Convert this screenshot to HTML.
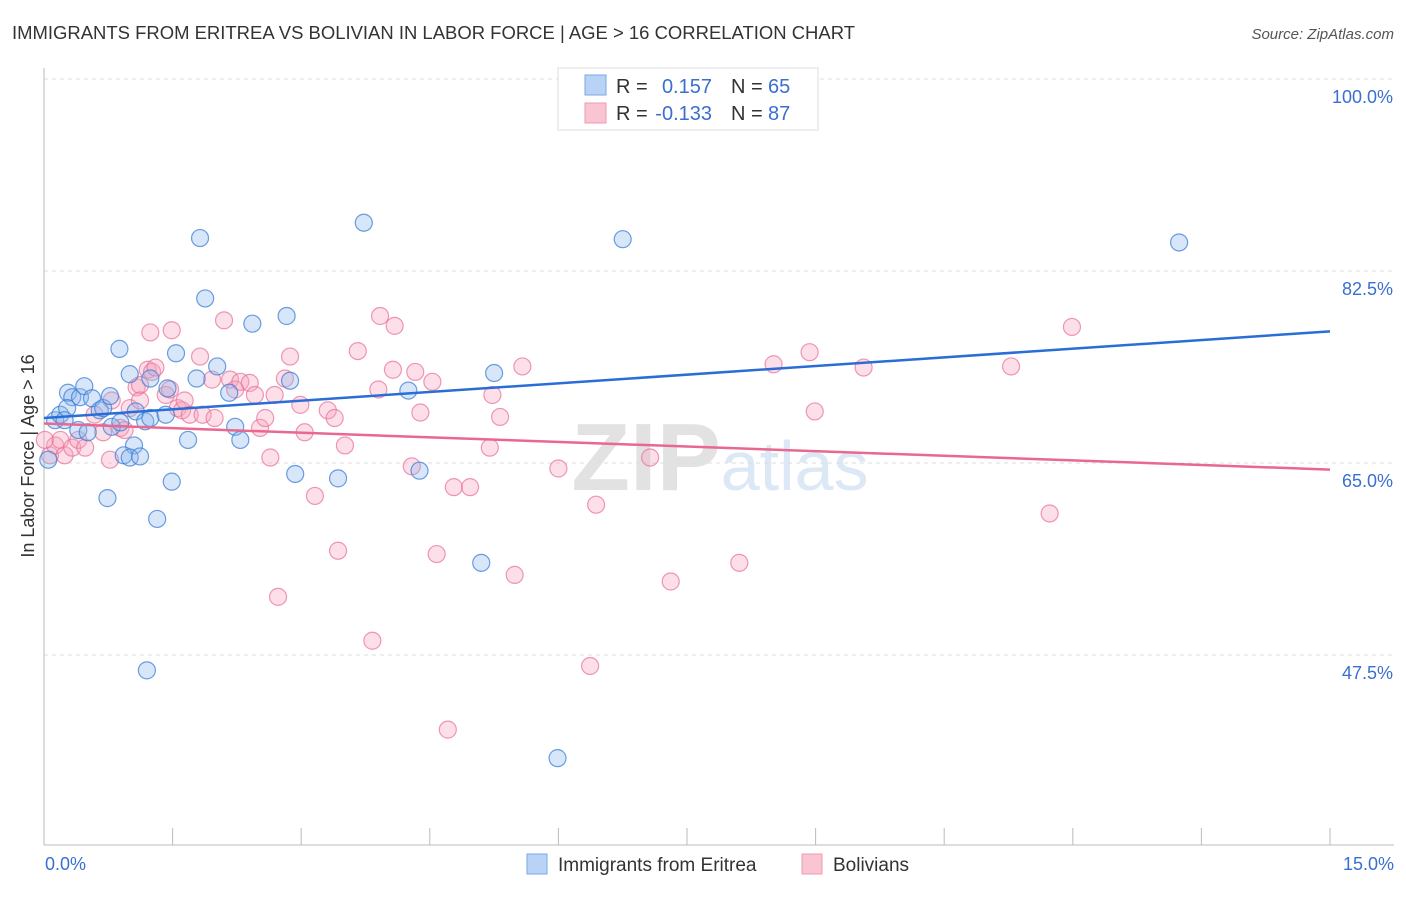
<!DOCTYPE html>
<html><head><meta charset="utf-8"><style>
body{margin:0;background:#fff;font-family:"Liberation Sans",sans-serif;}
svg text{font-family:"Liberation Sans",sans-serif;}
</style></head><body>
<svg id="chart" width="1406" height="892" xmlns="http://www.w3.org/2000/svg">
<text x="12" y="39" font-size="18" fill="#333" textLength="843" lengthAdjust="spacingAndGlyphs">IMMIGRANTS FROM ERITREA VS BOLIVIAN IN LABOR FORCE | AGE &gt; 16 CORRELATION CHART</text>
<text x="1394" y="39" font-size="15" fill="#555" font-style="italic" text-anchor="end">Source: ZipAtlas.com</text>
<text x="720" y="490" font-size="96" fill="#e6e6e6" text-anchor="middle" font-family="Liberation Serif"><tspan font-weight="bold" fill="#e2e2e2">ZIP</tspan><tspan fill="#dde8f6" font-family="Liberation Sans" font-size="70">atlas</tspan></text>
<g id="grid"></g>
<g id="axes"></g>
<g id="pts"></g>
<g id="trends"></g>
<text transform="translate(34,456) rotate(-90)" font-size="18" fill="#333" text-anchor="middle">In Labor Force | Age &gt; 16</text>
<g>
<rect x="558" y="68" width="260" height="62" fill="#fff" stroke="#ddd"/>
<rect x="585" y="75" width="21" height="20" fill="#b8d3f5" stroke="#7aa8e8"/>
<rect x="585" y="103" width="21" height="20" fill="#f9c5d3" stroke="#ee9ab3"/>
<text x="616" y="93" font-size="20" fill="#333">R =</text><text x="712" y="93" font-size="20" fill="#3a6fd0" text-anchor="end">0.157</text>
<text x="731" y="93" font-size="20" fill="#333">N =</text><text x="768" y="93" font-size="20" fill="#3a6fd0">65</text>
<text x="616" y="120" font-size="20" fill="#333">R =</text><text x="712" y="120" font-size="20" fill="#3a6fd0" text-anchor="end">-0.133</text>
<text x="731" y="120" font-size="20" fill="#333">N =</text><text x="768" y="120" font-size="20" fill="#3a6fd0">87</text>
</g>
<g>
<rect x="527" y="854" width="20" height="20" fill="#b8d3f5" stroke="#7aa8e8"/>
<text x="558" y="871" font-size="19" fill="#333">Immigrants from Eritrea</text>
<rect x="802" y="854" width="20" height="20" fill="#f9c5d3" stroke="#ee9ab3"/>
<text x="833" y="871" font-size="19" fill="#333">Bolivians</text>
</g>
</svg>
<script>
const blueX=[0.13,0.19,0.28,0.33,0.27,0.24,0.42,0.47,0.56,0.40,0.51,0.65,0.69,0.77,0.79,0.89,0.88,1.00,1.07,1.05,0.93,1.00,1.12,1.18,1.24,1.42,1.24,1.44,1.54,0.74,1.49,1.32,1.68,1.78,2.02,1.82,1.88,2.16,2.23,2.29,2.43,2.83,2.87,2.93,3.43,3.73,4.25,4.38,5.25,5.10,5.99,1.20,6.75,13.24,0.05];
const blueY=[68.9,69.4,71.4,71.0,70.0,68.9,71.0,72.0,70.9,68.0,67.8,69.8,70.0,71.1,68.3,68.7,75.4,73.1,69.7,66.6,65.7,65.5,65.6,68.8,69.1,69.4,72.7,71.8,75.0,61.8,63.3,59.9,67.1,72.7,73.8,85.5,80.0,71.4,68.3,67.1,77.7,78.4,72.5,64.0,63.6,86.9,71.6,64.3,73.2,55.9,38.1,46.1,85.4,85.1,65.3];
const pinkX=[0.07,0.13,0.19,0.24,0.33,0.40,0.48,0.59,0.69,0.77,0.79,0.89,0.94,1.00,1.08,1.12,1.21,1.26,1.30,1.42,1.47,1.56,1.61,1.64,1.70,1.82,1.85,1.96,1.99,2.10,2.17,2.23,2.29,2.40,2.46,2.52,2.58,2.64,2.69,2.73,2.81,2.87,2.99,3.04,3.16,3.31,3.39,3.43,3.51,3.66,3.83,3.90,3.92,4.07,4.09,4.29,4.33,4.39,4.53,4.58,4.71,4.78,4.97,5.20,5.23,5.32,5.49,5.58,6.00,6.37,6.44,7.07,7.31,8.11,8.51,8.93,8.99,9.56,11.28,11.73,11.99,1.24,1.49,1.12,0.01];
const pinkY=[65.7,66.6,67.1,65.7,66.4,67.1,66.4,69.4,67.8,65.3,70.7,68.2,68.0,70.0,71.9,72.1,73.5,73.3,73.7,71.2,71.7,70.0,69.8,70.7,69.4,74.7,69.4,72.6,69.1,78.0,72.6,71.7,72.4,72.3,71.2,68.2,69.1,65.5,71.2,52.8,72.7,74.7,70.3,67.8,62.0,69.8,69.1,57.0,66.6,75.2,48.8,71.7,78.4,73.5,77.5,64.7,73.3,69.6,72.4,56.7,40.7,62.8,62.8,66.4,71.2,69.2,54.8,73.8,64.5,46.5,61.2,65.5,54.2,55.9,74.0,75.1,69.7,73.7,73.8,60.4,77.4,76.9,77.1,70.7,67.1];
const blueTrend=[69.1,77.0];
const pinkTrend=[68.6,64.4];
const yTicks=[100,82.5,65,47.5];
const yTickLabels=["100.0%","82.5%","65.0%","47.5%"];
const xTicks=[0,1.5,3,4.5,6,7.5,9,10.5,12,13.5,15];

const X0=44,X1=1330,XMIN=0,XMAX=15,Y0=79,YTOP=100,PXPER=192/17.5;
const sx=v=>X0+(v-XMIN)/(XMAX-XMIN)*(X1-X0);
const sy=v=>Y0+(YTOP-v)*PXPER;
const NS="http://www.w3.org/2000/svg";
function mk(tag,attrs,parent){const e=document.createElementNS(NS,tag);for(const k in attrs)e.setAttribute(k,attrs[k]);parent.appendChild(e);return e;}
const grid=document.getElementById('grid'),axes=document.getElementById('axes');
yTicks.forEach((t,i)=>{
  const l=mk('line',{x1:X0,x2:1394,y1:sy(t),y2:sy(t),stroke:'#ddd','stroke-dasharray':'4,4'},grid);
  
  
  const tx=mk('text',{x:1393,y:sy(t)+24,'font-size':18,fill:'#3a6fd0','text-anchor':'end'},axes);
  tx.textContent=yTickLabels[i];
  
  
});
const ya=mk('line',{x1:X0,x2:X0,y1:68,y2:845,stroke:'#bbb'},axes);


const xa=mk('line',{x1:X0,x2:1394,y1:845,y2:845,stroke:'#bbb'},axes);


xTicks.forEach(t=>{
  const l=mk('line',{x1:sx(t),x2:sx(t),y1:828,y2:845,stroke:'#bbb'},axes);
  
  
});
const xl0=mk('text',{x:45,y:870,'font-size':18,fill:'#3a6fd0'},axes);xl0.textContent=XMIN.toFixed(1)+'%';


const xl1=mk('text',{x:1394,y:870,'font-size':18,fill:'#3a6fd0','text-anchor':'end'},axes);xl1.textContent=XMAX.toFixed(1)+'%';


const pts=document.getElementById('pts');
pinkX.forEach((x,i)=>{
  const c=mk('circle',{cx:sx(x),cy:sy(pinkY[i]),r:8.5,fill:'rgba(246,164,189,0.35)',stroke:'rgba(232,110,150,0.7)','stroke-width':1.2},pts);
  
  
});
blueX.forEach((x,i)=>{
  const c=mk('circle',{cx:sx(x),cy:sy(blueY[i]),r:8.5,fill:'rgba(140,184,238,0.35)',stroke:'rgba(60,125,215,0.75)','stroke-width':1.2},pts);
  
  
});
const tr=document.getElementById('trends');
const tb=mk('line',{x1:sx(XMIN),y1:sy(blueTrend[0]),x2:sx(XMAX),y2:sy(blueTrend[1]),stroke:'#2a6dd6','stroke-width':2.5},tr);


const tp=mk('line',{x1:sx(XMIN),y1:sy(pinkTrend[0]),x2:sx(XMAX),y2:sy(pinkTrend[1]),stroke:'#e8688f','stroke-width':2.5},tr);


</script>
</body></html>
